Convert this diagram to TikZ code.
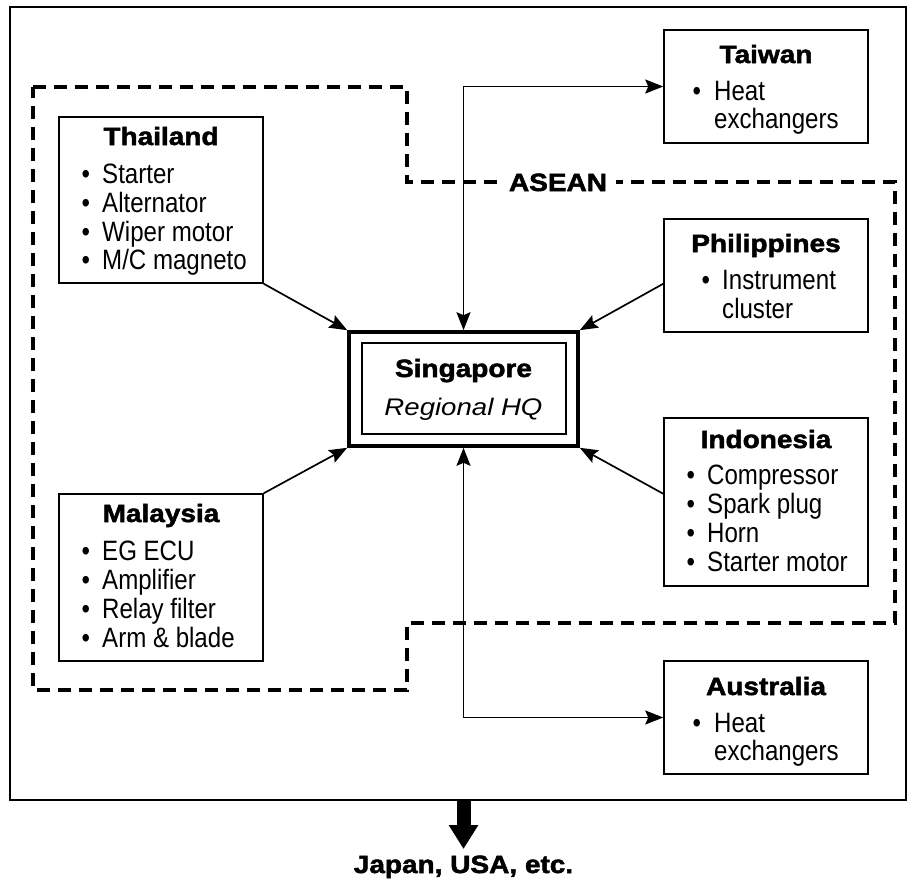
\documentclass[tikz,border=0pt]{standalone}
\usepackage{fontspec}
\setmainfont{Liberation Sans}
\newfontfamily\titlefont{Liberation Sans Bold}[FakeStretch=1.12,FakeBold=2]
\newfontfamily\itemfont{Liberation Sans}[FakeStretch=0.86]
\newfontfamily\hqfont{Liberation Sans Italic}[FakeStretch=1.15]
\usetikzlibrary{arrows.meta}
\tikzset{
  box/.style={draw, line width=1.5pt, minimum width=204pt, inner sep=0pt},
  ttl/.style={anchor=base, inner sep=0pt, font=\titlefont\fontsize{25}{28}\selectfont},
  itm/.style={anchor=base west, inner sep=0pt, font=\itemfont\fontsize{28}{29}\selectfont},
  tipA/.tip={Stealth[length=18pt,width=14pt,inset=3pt]},
  arr/.style={line width=1.7pt, -tipA},
  darr/.style={line width=1.7pt, tipA-tipA},
  region/.style={line width=3.2pt, dash pattern=on 13pt off 8pt},
}
\newcommand{\bul}[1]{\makebox[#1][l]{•}}
\begin{document}
\begin{tikzpicture}[x=1pt,y=-1pt]
\useasboundingbox (0,0) rectangle (907,886);
% outer frame
\node[draw, line width=2.4pt, minimum width=896pt, minimum height=793pt, inner sep=0pt] (frame) at (458,403.5) {};
% ASEAN region
\draw[region] (33,87) -- (407,87) -- (407,182) -- (895,182) -- (895,623) -- (407,623) -- (407,690) -- (33,690) -- cycle;
\node[fill=white, inner xsep=9pt, inner ysep=2pt, anchor=base, font=\titlefont\fontsize{25}{28}\selectfont] (asean) at (558,191) {ASEAN};
% boxes
\node[box, minimum height=166pt] (thai) at (161,200) {};
\node[box, minimum height=113pt] (tw) at (766,86.5) {};
\node[box, minimum height=113pt] (phil) at (766,275.5) {};
\node[box, minimum height=168pt] (indo) at (766,502) {};
\node[box, minimum height=167pt] (mal) at (161,577.5) {};
\node[box, minimum height=113pt] (aus) at (766,717.5) {};
\node[draw, line width=3.6pt, minimum width=229pt, minimum height=114pt, inner sep=0pt] (sg) at (463.5,389) {};
\node[draw, line width=1.5pt, minimum width=204pt, minimum height=91pt, inner sep=0pt] (sgin) at (464,388.5) {};
% Thailand
\node[ttl] (thaiT) at (161,145) {Thailand};
\node[itm] (thai1) at (81.5,183) {\bul{20.5pt}Starter};
\node[itm] (thai2) at (81.5,212) {\bul{20.5pt}Alternator};
\node[itm] (thai3) at (81.5,241) {\bul{20.5pt}Wiper motor};
\node[itm] (thai4) at (81.5,269) {\bul{20.5pt}M/C magneto};
% Taiwan
\node[ttl] (twT) at (766,63) {Taiwan};
\node[itm] (tw1) at (692.5,100) {\bul{21.5pt}Heat};
\node[itm] (tw2) at (714,128) {exchangers};
% Philippines
\node[ttl] (philT) at (766,252) {Philippines};
\node[itm] (phil1) at (701.5,289) {\bul{20.5pt}Instrument};
\node[itm] (phil2) at (722,318) {cluster};
% Indonesia
\node[ttl] (indoT) at (766,448) {Indonesia};
\node[itm] (indo1) at (686.5,484) {\bul{20.5pt}Compressor};
\node[itm] (indo2) at (686.5,513) {\bul{20.5pt}Spark plug};
\node[itm] (indo3) at (686.5,542) {\bul{20.5pt}Horn};
\node[itm] (indo4) at (686.5,571) {\bul{20.5pt}Starter motor};
% Malaysia
\node[ttl] (malT) at (161,522) {Malaysia};
\node[itm] (mal1) at (81.5,560) {\bul{20.5pt}EG ECU};
\node[itm] (mal2) at (81.5,589) {\bul{20.5pt}Amplifier};
\node[itm] (mal3) at (81.5,618) {\bul{20.5pt}Relay filter};
\node[itm] (mal4) at (81.5,647) {\bul{20.5pt}Arm \& blade};
% Australia
\node[ttl] (ausT) at (766,695) {Australia};
\node[itm] (aus1) at (692.5,732) {\bul{21.5pt}Heat};
\node[itm] (aus2) at (714,760) {exchangers};
% Singapore text
\node[ttl] (sgT) at (463.5,377) {Singapore};
\node[anchor=base, inner sep=0pt, font=\hqfont\fontsize{24}{26}\selectfont] (sgHQ) at (463.5,415) {Regional HQ};
% connectors
\draw[arr] (thai.south east) -- (sg.north west);
\draw[arr] (mal.north east) -- (sg.south west);
\draw[arr] ([yshift=49pt]phil.south west) -- (sg.north east);
\draw[arr] ([yshift=93pt]indo.south west) -- (sg.south east);
\draw[darr] (tw.west) -| (sg.north);
\draw[darr] (sg.south) |- (aus.west);
% exit arrow
\node[ttl] (japan) at (463.5,873) {Japan, USA, etc.};
\coordinate (tip) at (463.5,849);
\draw[line width=14pt, -{Triangle[length=24pt,width=28pt]}] (sg.south |- frame.south) -- (tip);
\end{tikzpicture}
\end{document}
